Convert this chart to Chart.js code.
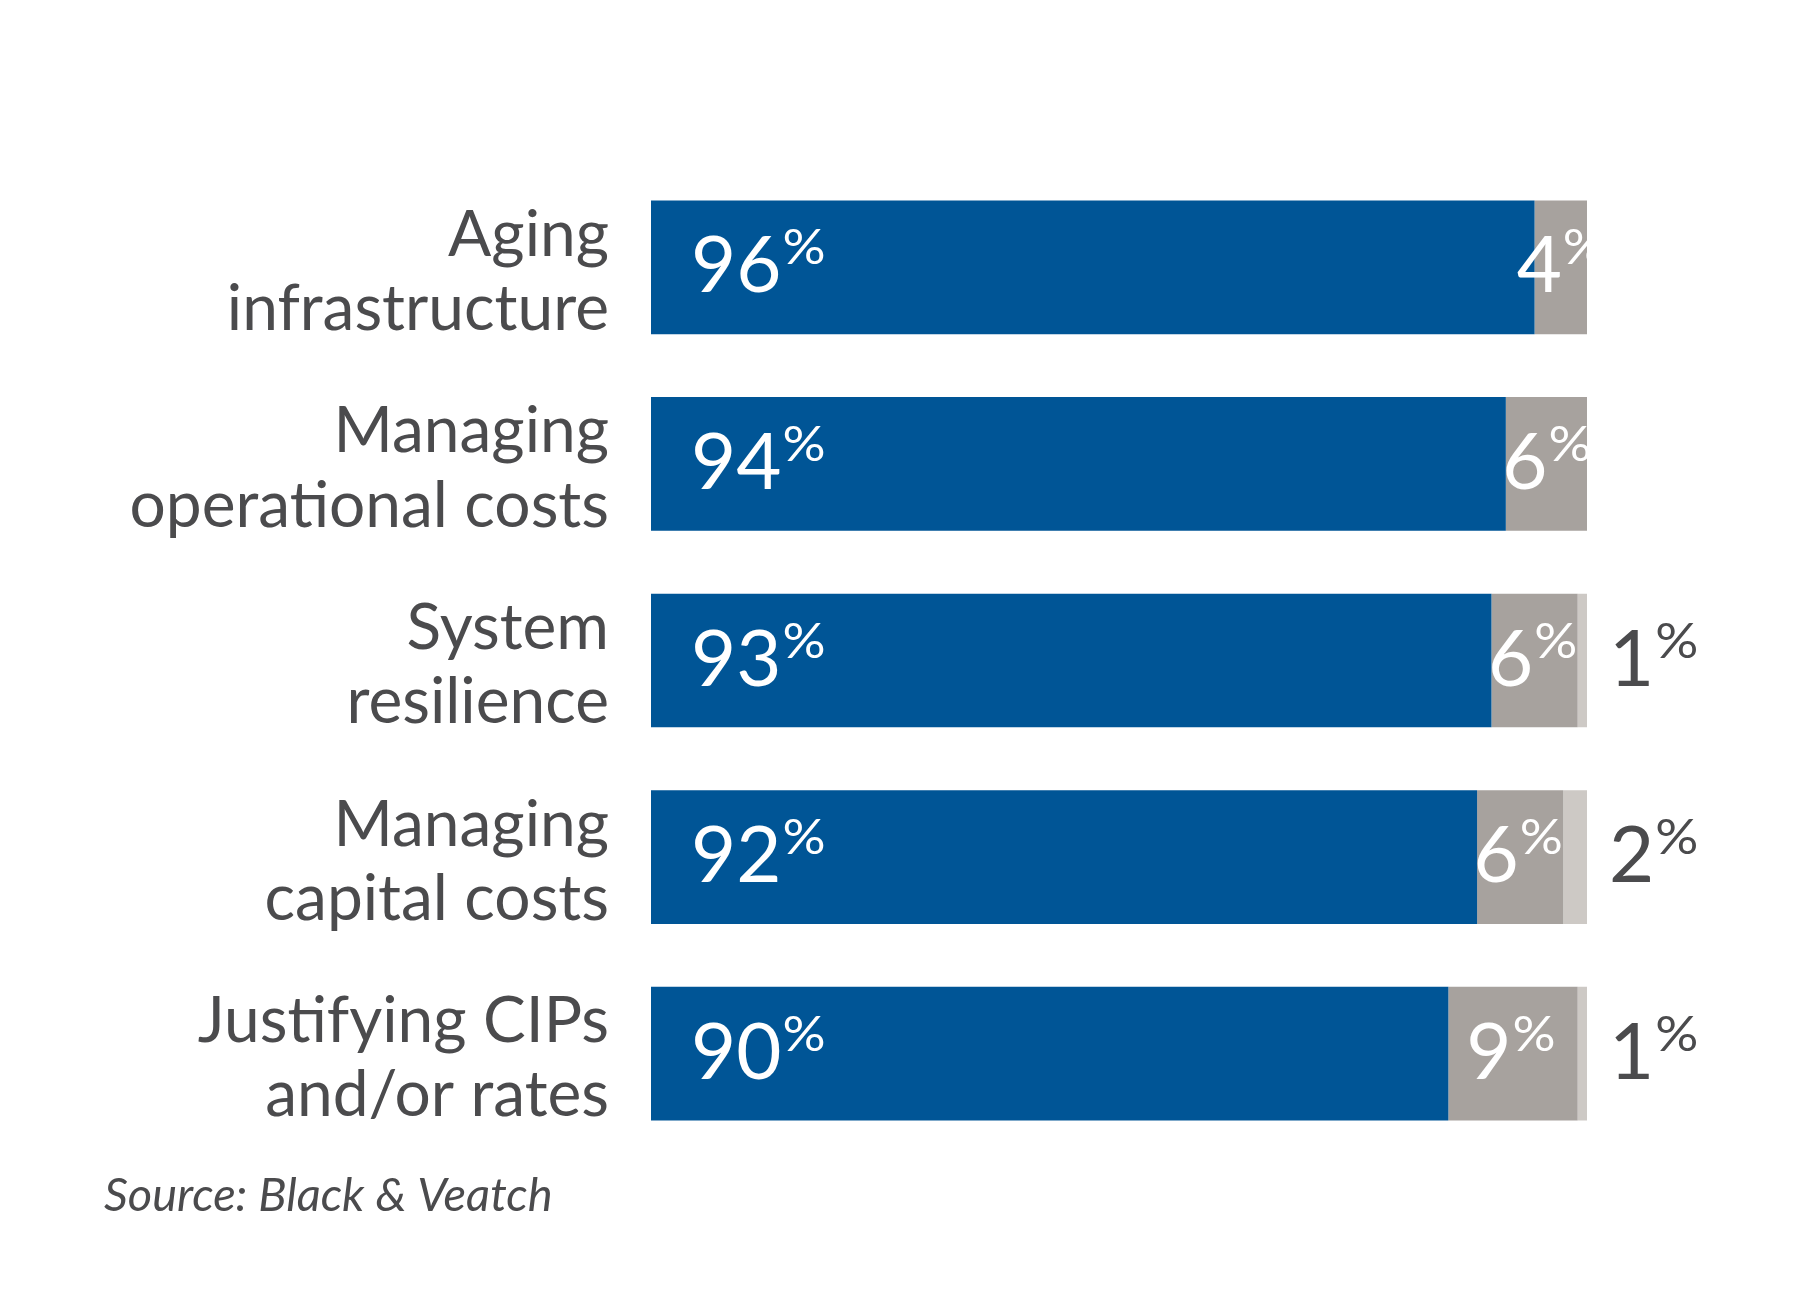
<!DOCTYPE html>
<html>
<head>
<meta charset="utf-8">
<script src="https://cdn.jsdelivr.net/npm/chart.js@4.4.1/dist/chart.umd.min.js"></script>
<style>
	html, body { margin: 0; padding: 0; background: #ffffff; }
	#wrap { position: relative; width: 1818px; height: 1306px; }
</style>
</head>
<body>
<div id="wrap">
	<canvas id="chart"></canvas>
</div>
<script>
var categories = [
	["Aging", "infrastructure"],
	["Managing", "operational costs"],
	["System", "resilience"],
	["Managing", "capital costs"],
	["Justifying CIPs", "and/or rates"]
];
var major_values = [96, 94, 93, 92, 90];
var middle_values = [4, 6, 6, 6, 9];
var minor_values = [0, 0, 1, 2, 1];
var source_text = "Source: Black & Veatch";

var text_color = "#4b4b4d";

/**
 * Draws "96" with a small raised "%" after it.
 * x is the left edge, or the centre when centred is true.
 * The "%" is stretched a little sideways, it is wider in the original.
 */
function draw_percent(ctx, value, x, y, color, centred) {
	var number = String(value);
	var stretch = 1.12;
	ctx.font = "400 78px Lato";
	var w1 = ctx.measureText(number).width;
	ctx.font = "400 48px Lato";
	var w2 = ctx.measureText("%").width * stretch;
	var left = centred ? x - (w1 + w2 + 1) / 2 : x;

	ctx.fillStyle = color;
	ctx.textAlign = "left";
	ctx.textBaseline = "alphabetic";
	ctx.font = "400 78px Lato";
	ctx.fillText(number, left, y + 25);

	ctx.save();
	ctx.translate(left + w1 + 1, y - 3);
	ctx.scale(stretch, 1);
	ctx.font = "400 48px Lato";
	ctx.fillText("%", 0, 0);
	ctx.restore();
}

var label_plugin = {
	id: "percentLabels",
	afterDatasetsDraw: function (chart) {
		var ctx = chart.ctx;
		var area = chart.chartArea;
		ctx.save();
		ctx.beginPath();
		ctx.rect(area.left, 0, area.right - area.left, chart.height);
		ctx.clip();
		chart.getDatasetMeta(0).data.forEach(function (bar, i) {
			draw_percent(ctx, major_values[i], area.left + 40, bar.y, "#ffffff", false);
		});
		chart.getDatasetMeta(1).data.forEach(function (bar, i) {
			var centre = (bar.base + bar.x) / 2;
			draw_percent(ctx, middle_values[i], centre - 2, bar.y, "#ffffff", true);
		});
		ctx.restore();

		ctx.save();
		chart.getDatasetMeta(2).data.forEach(function (bar, i) {
			if (minor_values[i] > 0) {
				draw_percent(ctx, minor_values[i], area.right + 22, bar.y, text_color, false);
			}
		});
		ctx.restore();
	},
	afterDraw: function (chart) {
		var ctx = chart.ctx;
		ctx.save();
		ctx.fillStyle = text_color;
		ctx.font = "italic 47px Lato";
		ctx.textAlign = "left";
		ctx.textBaseline = "alphabetic";
		ctx.fillText(source_text, 104, 1211);
		ctx.restore();
	}
};

var context = document.getElementById("chart").getContext("2d");
var chart = new Chart(context, {
	type: "bar",
	data: {
		labels: categories,
		datasets: [
			{ label: "Major", data: major_values, backgroundColor: "#005596" },
			{ label: "Middle", data: middle_values, backgroundColor: "#a7a29e" },
			{ label: "Minor", data: minor_values, backgroundColor: "#cdc9c5" }
		]
	},
	options: {
		indexAxis: "y",
		responsive: true,
		maintainAspectRatio: false,
		animation: false,
		devicePixelRatio: 1,
		layout: { padding: { top: 169, right: 231, bottom: 154, left: 0 } },
		datasets: {
			bar: { categoryPercentage: 1, barPercentage: 0.68, borderWidth: 0 }
		},
		plugins: {
			legend: { display: false },
			tooltip: { enabled: false }
		},
		scales: {
			x: {
				stacked: true,
				display: false,
				min: 34.5,
				max: 99.65
			},
			y: {
				stacked: true,
				grid: { display: false, drawTicks: false },
				border: { display: false },
				afterFit: function (axis) { axis.width = 651; },
				ticks: {
					color: text_color,
					padding: 42,
					labelOffset: 5,
					font: { family: "Lato", size: 64, lineHeight: 1.16 }
				}
			}
		}
	},
	plugins: [label_plugin]
});
</script>
</body>
</html>
